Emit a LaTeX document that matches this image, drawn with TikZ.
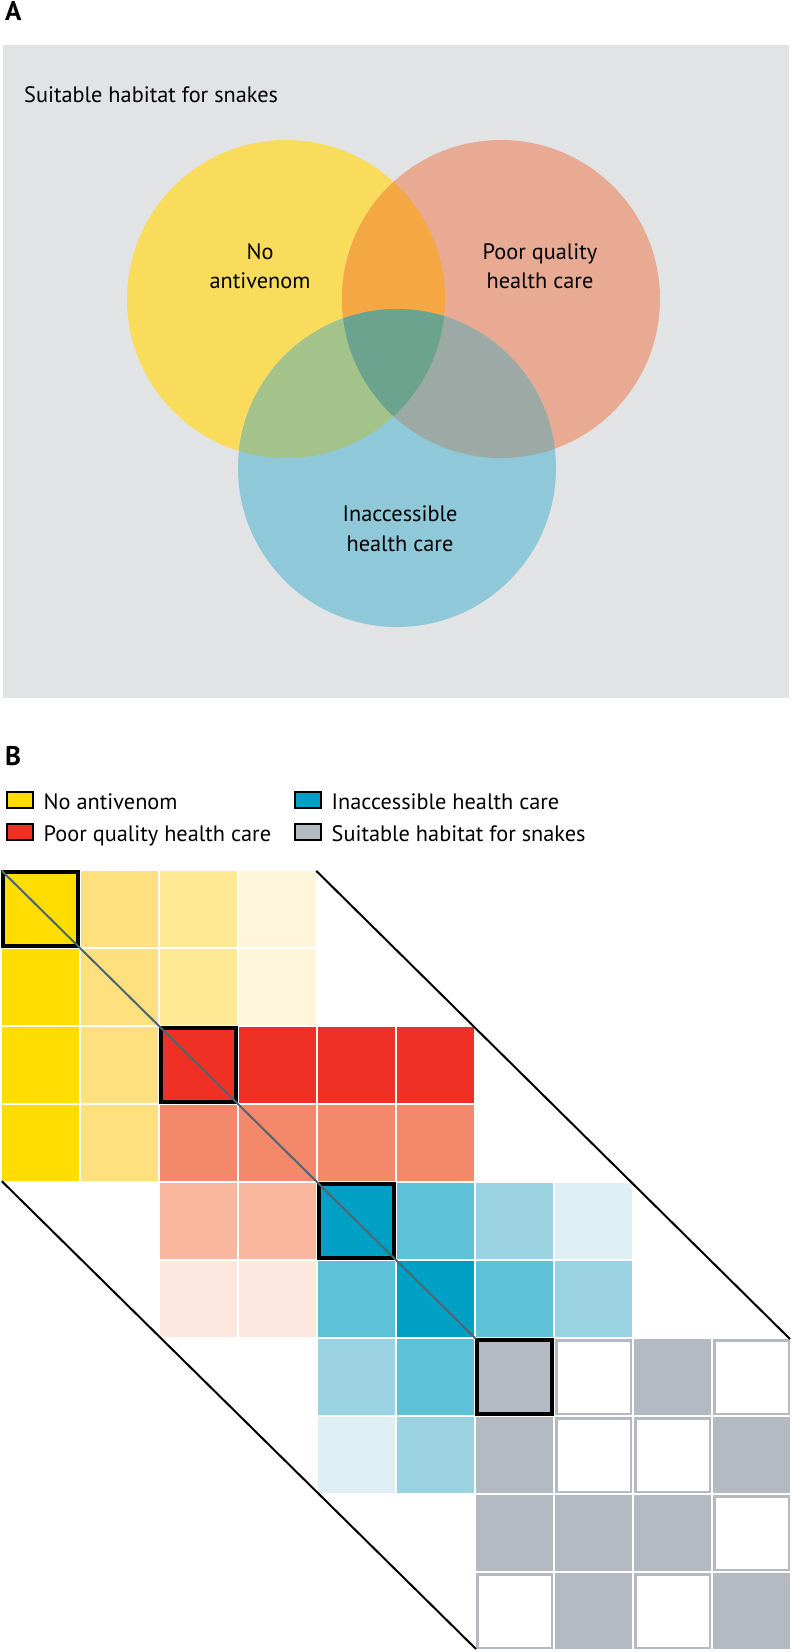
\documentclass[tikz,border=0pt]{standalone}
\usepackage{fontspec}
\setmainfont{PT Sans}
\usetikzlibrary{positioning}
\definecolor{habitat}{HTML}{E2E3E5}
\definecolor{venY}{HTML}{F9DC5C}
\definecolor{venS}{HTML}{E8AA93}
\definecolor{venB}{HTML}{8FC8D8}
\definecolor{venYS}{HTML}{F4A742}
\definecolor{venYB}{HTML}{A4C38A}
\definecolor{venSB}{HTML}{9CA9A4}
\definecolor{venAll}{HTML}{6BA38F}
\definecolor{yelA}{HTML}{FFDD00}
\definecolor{yelB}{HTML}{FFE07F}
\definecolor{yelC}{HTML}{FFE995}
\definecolor{yelD}{HTML}{FFF6DC}
\definecolor{redA}{HTML}{EE3124}
\definecolor{redB}{HTML}{F3896A}
\definecolor{redC}{HTML}{F9B89D}
\definecolor{redD}{HTML}{FDE7DE}
\definecolor{bluA}{HTML}{00A0C4}
\definecolor{bluB}{HTML}{5DC1D7}
\definecolor{bluC}{HTML}{9BD3E3}
\definecolor{bluD}{HTML}{DEF0F5}
\definecolor{gry}{HTML}{B3BAC1}
\definecolor{slate}{HTML}{4E6670}
\tikzset{
  txt/.style={inner sep=0pt, font=\fontsize{22.3}{29.5}\selectfont},
  panel/.style={inner sep=0pt, font=\fontsize{27}{30}\selectfont\bfseries},
  cell/.style={rectangle, inner sep=0pt, minimum width=77pt, minimum height=76pt},
  gcell/.style={cell, draw=gry, line width=2.5pt, minimum width=74.5pt,
                minimum height=73.5pt},
  hilite/.style={rectangle, draw=black, line width=4pt, inner sep=0pt,
                 minimum width=75pt, minimum height=74pt},
  keybox/.style={rectangle, draw=black, line width=2pt, inner sep=0pt,
                 minimum width=26pt, minimum height=16pt},
  rim/.style={black, line width=2pt},
}
\begin{document}
\begin{tikzpicture}[x=1pt, y=-1pt, node distance=14pt]
  \useasboundingbox (0,0) rectangle (792,1652);
  % panel A
  \node[panel, anchor=base west] (pA) at (5,20.5) {A};
  \fill[habitat] (2.5,44.5) rectangle (789,698);
  \node[txt, anchor=base west] (lHab) at (24,102) {Suitable habitat for snakes};
  \coordinate (yc) at (286,299);
  \coordinate (sc) at (501,299);
  \coordinate (bc) at (397,468);
  \fill[venY] (yc) circle[radius=159];
  \fill[venS] (sc) circle[radius=159];
  \fill[venB] (bc) circle[radius=159];
  \begin{scope}
    \clip (yc) circle[radius=159];
    \fill[venYS] (sc) circle[radius=159];
    \fill[venYB] (bc) circle[radius=159];
  \end{scope}
  \begin{scope}
    \clip (sc) circle[radius=159];
    \fill[venSB] (bc) circle[radius=159];
  \end{scope}
  \begin{scope}
    \clip (yc) circle[radius=159];
    \clip (sc) circle[radius=159];
    \fill[venAll] (bc) circle[radius=159];
  \end{scope}
  \node[txt, align=center, anchor=base] (lNo) at (260,288.5) {No\\antivenom};
  \node[txt, align=center, anchor=base] (lPoor) at (540,288.5) {Poor quality\\health care};
  \node[txt, align=center, anchor=base] (lInacc) at (400,551) {Inaccessible\\health care};

  % panel B: key
  \node[panel, anchor=base west] (pB) at (5,765) {B};
  \node[keybox, fill=yelA] (kNo) at (20,800) {};
  \node[keybox, fill=redA, below=of kNo] (kPoor) {};
  \node[keybox, fill=bluA] (kInacc) at (308,800) {};
  \node[keybox, fill=gry, below=of kInacc] (kHab) {};
  \node[txt, anchor=base west] (tNo) at ([xshift=9.5pt]kNo.south east) {No antivenom};
  \node[txt, anchor=base west] (tPoor) at ([xshift=9.5pt]kPoor.south east) {Poor quality health care};
  \node[txt, anchor=base west] (tInacc) at ([xshift=9.5pt]kInacc.south east) {Inaccessible health care};
  \node[txt, anchor=base west] (tHab) at ([xshift=9.5pt]kHab.south east) {Suitable habitat for snakes};

  % panel B: matrix
  \foreach \c/\s in {0/A,1/B,2/C,3/D}
    \foreach \r in {0,1}
      \node[cell, fill=yel\s] (c\r\c) at ({40.5+79*\c},{909+78*\r}) {};
  \foreach \c/\s in {0/A,1/B}
    \foreach \r in {2,3}
      \node[cell, fill=yel\s] (c\r\c) at ({40.5+79*\c},{909+78*\r}) {};
  \foreach \r/\s in {2/A,3/B}
    \foreach \c in {2,...,5}
      \node[cell, fill=red\s] (c\r\c) at ({40.5+79*\c},{909+78*\r}) {};
  \foreach \r/\s in {4/C,5/D}
    \foreach \c in {2,3}
      \node[cell, fill=red\s] (c\r\c) at ({40.5+79*\c},{909+78*\r}) {};
  \foreach \r/\c/\s in {4/4/A,4/5/B,4/6/C,4/7/D,5/4/B,5/5/A,5/6/B,5/7/C,
                        6/4/C,6/5/B,7/4/D,7/5/C}
    \node[cell, fill=blu\s] (c\r\c) at ({40.5+79*\c},{909+78*\r}) {};
  \foreach \r/\c/\s in {6/6/gry,6/7/white,6/8/gry,6/9/white,
                        7/6/gry,7/7/white,7/8/white,7/9/gry,
                        8/6/gry,8/7/gry,8/8/gry,8/9/white,
                        9/6/white,9/7/gry,9/8/white,9/9/gry}
    \node[gcell, fill=\s] (c\r\c) at ({40.5+79*\c},{909+78*\r}) {};
  \foreach \i in {00,22,44,66}
    \node[hilite] (h\i) at (c\i) {};
  \draw[slate, line width=2pt] (c00.north west) -- (c66.north west);
  \draw[rim] (c30.south west) -- (c96.south west);
  \draw[rim] (c03.north east) -- (c69.north east);
\end{tikzpicture}
\end{document}
